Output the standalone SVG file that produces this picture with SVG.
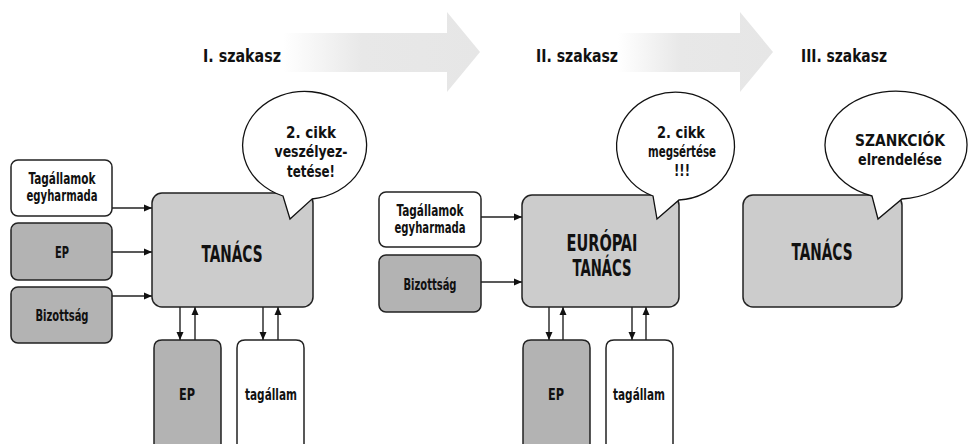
<svg xmlns="http://www.w3.org/2000/svg" width="970" height="444" viewBox="0 0 970 444">
<style>
text{font-family:"Liberation Sans Narrow","DejaVu Sans Condensed","Liberation Sans",sans-serif;font-weight:bold;fill:#111;text-anchor:middle}
.head{font-size:18px}
.lbl{font-size:15px}
.big{font-size:23px}
.bub{font-size:16px}
.w{fill:#fff;stroke:#222;stroke-width:1.5}
.d{fill:#b3b3b3;stroke:#222;stroke-width:1.5}
.c{fill:#cccccc;stroke:#222;stroke-width:1.5}
.bubble{fill:#fff;stroke:#111;stroke-width:1.3}
.con line{stroke:#222;stroke-width:1.4;marker-end:url(#ah)}
</style>
<defs>
<marker id="ah" viewBox="0 0 8 8" refX="8" refY="4" markerWidth="8" markerHeight="8" markerUnits="userSpaceOnUse" orient="auto">
<path d="M0,0.5 L8,4 L0,7.5 Z" fill="#111"/>
</marker>
<linearGradient id="g1" gradientUnits="userSpaceOnUse" x1="283" y1="0" x2="480" y2="0">
<stop offset="0" stop-color="#fff"/><stop offset="0.4" stop-color="#e8e8e8"/><stop offset="1" stop-color="#e6e6e6"/>
</linearGradient>
<linearGradient id="g2" gradientUnits="userSpaceOnUse" x1="618" y1="0" x2="773" y2="0">
<stop offset="0" stop-color="#fff"/><stop offset="0.4" stop-color="#e8e8e8"/><stop offset="1" stop-color="#e6e6e6"/>
</linearGradient>
</defs>

<g id="stage-arrows">
<path d="M283,33 H447 V12 L480,52 L447,92 V72 H283 Z" fill="url(#g1)"/>
<path d="M618,33 H740 V12 L773,52 L740,92 V72 H618 Z" fill="url(#g2)"/>
</g>

<g id="headings">
<text class="head" x="242" y="62" textLength="78" lengthAdjust="spacingAndGlyphs">I. szakasz</text>
<text class="head" x="577" y="62" textLength="82" lengthAdjust="spacingAndGlyphs">II. szakasz</text>
<text class="head" x="844" y="62" textLength="86" lengthAdjust="spacingAndGlyphs">III. szakasz</text>
</g>

<g id="connectors" class="con">
<line x1="112" y1="208" x2="152" y2="208"/>
<line x1="112" y1="252" x2="152" y2="252"/>
<line x1="112" y1="296" x2="152" y2="296"/>
<line x1="180" y1="307" x2="180" y2="340"/>
<line x1="195" y1="340" x2="195" y2="307"/>
<line x1="263" y1="307" x2="263" y2="340"/>
<line x1="278" y1="340" x2="278" y2="307"/>
<line x1="481" y1="217" x2="522" y2="217"/>
<line x1="481" y1="282" x2="522" y2="282"/>
<line x1="549" y1="307" x2="549" y2="340"/>
<line x1="563" y1="340" x2="563" y2="307"/>
<line x1="632" y1="307" x2="632" y2="340"/>
<line x1="646" y1="340" x2="646" y2="307"/>
</g>

<g id="s1-tagallamok">
<rect class="w" x="11" y="160" width="101" height="56" rx="7"/>
<text class="lbl" x="62" y="184" textLength="67" lengthAdjust="spacingAndGlyphs">Tagállamok</text>
<text class="lbl" x="62" y="201" textLength="71" lengthAdjust="spacingAndGlyphs">egyharmada</text>
</g>
<g id="s1-ep">
<rect class="d" x="11" y="223" width="101" height="57" rx="7"/>
<text class="lbl" x="62" y="258" textLength="14" lengthAdjust="spacingAndGlyphs">EP</text>
</g>
<g id="s1-bizottsag">
<rect class="d" x="11" y="287" width="101" height="56" rx="7"/>
<text class="lbl" x="62" y="321" textLength="53" lengthAdjust="spacingAndGlyphs">Bizottság</text>
</g>
<g id="s1-tanacs">
<rect class="c" x="152" y="193" width="161" height="114" rx="10"/>
<text class="big" x="232" y="262" textLength="61" lengthAdjust="spacingAndGlyphs">TANÁCS</text>
</g>
<g id="s1-bubble">
<path class="bubble" d="M283,196 A62,54 0 1 1 312,199 L290,219 Z"/>
<text class="bub" x="311" y="138" textLength="50" lengthAdjust="spacingAndGlyphs">2. cikk</text>
<text class="bub" x="311" y="157" textLength="73" lengthAdjust="spacingAndGlyphs">veszélyez-</text>
<text class="bub" x="311" y="177" textLength="48" lengthAdjust="spacingAndGlyphs">tetése!</text>
</g>
<g id="s1-ep-low">
<path class="d" d="M154,460 V348 Q154,340 162,340 H213 Q221,340 221,348 V460"/>
<text class="lbl" x="187" y="400" textLength="16" lengthAdjust="spacingAndGlyphs">EP</text>
</g>
<g id="s1-tagallam-low">
<path class="w" d="M237,460 V348 Q237,340 245,340 H296 Q304,340 304,348 V460"/>
<text class="lbl" x="271" y="400" textLength="52" lengthAdjust="spacingAndGlyphs">tagállam</text>
</g>

<g id="s2-tagallamok">
<rect class="w" x="379" y="192" width="102" height="55" rx="7"/>
<text class="lbl" x="430" y="216" textLength="67" lengthAdjust="spacingAndGlyphs">Tagállamok</text>
<text class="lbl" x="430" y="233" textLength="71" lengthAdjust="spacingAndGlyphs">egyharmada</text>
</g>
<g id="s2-bizottsag">
<rect class="d" x="379" y="255" width="102" height="57" rx="7"/>
<text class="lbl" x="430" y="290" textLength="53" lengthAdjust="spacingAndGlyphs">Bizottság</text>
</g>
<g id="s2-europai-tanacs">
<rect class="c" x="522" y="195" width="157" height="112" rx="10"/>
<text class="big" x="602" y="251" textLength="71" lengthAdjust="spacingAndGlyphs">EURÓPAI</text>
<text class="big" x="602" y="276" textLength="59" lengthAdjust="spacingAndGlyphs">TANÁCS</text>
</g>
<g id="s2-bubble">
<path class="bubble" d="M653,196 A59,54 0 1 1 679,200 L657,219 Z"/>
<text class="bub" x="681" y="138" textLength="48" lengthAdjust="spacingAndGlyphs">2. cikk</text>
<text class="bub" x="682" y="157" textLength="68" lengthAdjust="spacingAndGlyphs">megsértése</text>
<text class="bub" x="682" y="176" textLength="16" lengthAdjust="spacingAndGlyphs">!!!</text>
</g>
<g id="s2-ep-low">
<path class="d" d="M523,460 V348 Q523,340 531,340 H582 Q590,340 590,348 V460"/>
<text class="lbl" x="556" y="400" textLength="16" lengthAdjust="spacingAndGlyphs">EP</text>
</g>
<g id="s2-tagallam-low">
<path class="w" d="M606,460 V348 Q606,340 614,340 H665 Q673,340 673,348 V460"/>
<text class="lbl" x="639" y="400" textLength="52" lengthAdjust="spacingAndGlyphs">tagállam</text>
</g>

<g id="s3-tanacs">
<rect class="c" x="743" y="195" width="159" height="112" rx="10"/>
<text class="big" x="822" y="260" textLength="61" lengthAdjust="spacingAndGlyphs">TANÁCS</text>
</g>
<g id="s3-bubble">
<path class="bubble" d="M872,196 A71,54 0 1 1 902,199 L878,219 Z"/>
<text class="bub" x="900" y="146" textLength="90" lengthAdjust="spacingAndGlyphs">SZANKCIÓK</text>
<text class="bub" x="900" y="165" textLength="84" lengthAdjust="spacingAndGlyphs">elrendelése</text>
</g>
</svg>
